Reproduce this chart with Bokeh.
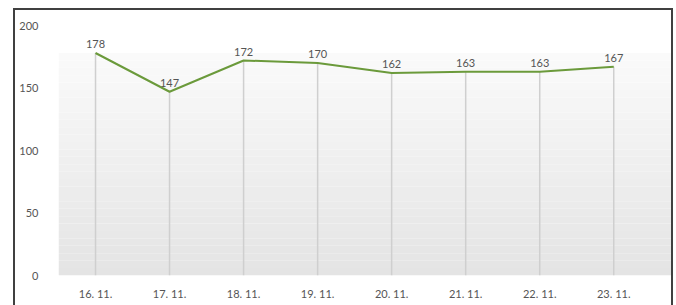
from bokeh.plotting import figure
from bokeh.layouts import column
from bokeh.models import ColumnDataSource, Range1d, FixedTicker, LabelSet
from bokeh.core.properties import value
from bokeh.embed import file_html
from bokeh.resources import INLINE

days = ["16. 11.", "17. 11.", "18. 11.", "19. 11.", "20. 11.", "21. 11.", "22. 11.", "23. 11."]
counts = [178, 147, 172, 170, 162, 163, 163, 167]
y_ticks = [0, 50, 100, 150, 200]

xs = list(range(len(days)))
src = ColumnDataSource(dict(x=xs, y=counts, zero=[0] * len(xs), lab=[str(c) for c in counts]))

p = figure(width=656, height=295, output_backend="svg", toolbar_location=None,
           x_range=Range1d(-0.5, 7.78), y_range=Range1d(0, 200),
           min_border_left=43, min_border_right=0, min_border_top=15, min_border_bottom=30)
p.outline_line_color = None
p.background_fill_color = "white"
p.border_fill_color = "white"
p.grid.grid_line_color = None

# gradient background from 0 up to the max value
top = max(counts)
n = 30
for i in range(n):
    b0 = top * i / n
    b1 = top * (i + 1) / n
    t = i / (n - 1)
    g = int(round(0xe4 + (0xfa - 0xe4) * t))
    col = "#%02x%02x%02x" % (g, g, g)
    p.quad(left=-0.5, right=7.78, bottom=b0, top=b1, fill_color=col, line_color=None)

# drop lines
p.segment(x0="x", y0="zero", x1="x", y1="y", source=src, line_color="#cfcfcf", line_width=1.5)

# main line
p.line(x="x", y="y", source=src, line_color="#6b9a3b", line_width=2)

labels = LabelSet(x="x", y="y", text="lab", source=src, text_align="center",
                  text_baseline="bottom", y_offset=5, text_font_size="11px",
                  text_color="#555555", text_font=value("Lato"))
p.add_layout(labels)

p.xaxis.ticker = FixedTicker(ticks=xs)
p.xaxis.major_label_overrides = {i: d for i, d in enumerate(days)}
p.yaxis.ticker = FixedTicker(ticks=y_ticks)
for ax in (p.xaxis, p.yaxis):
    ax.axis_line_color = None
    ax.major_tick_line_color = None
    ax.minor_tick_line_color = None
    ax.major_label_text_font = "Lato"
    ax.major_label_text_font_size = "11px"
    ax.major_label_text_color = "#555555"
p.xaxis.major_label_standoff = 5
p.yaxis.major_label_standoff = 14

layout = column(p, styles={"margin-left": "13px", "margin-top": "8px",
                           "border-top": "2px solid #404040",
                           "border-left": "2px solid #404040",
                           "border-right": "2px solid #404040"})

open("out.html", "w").write(file_html(layout, INLINE))
